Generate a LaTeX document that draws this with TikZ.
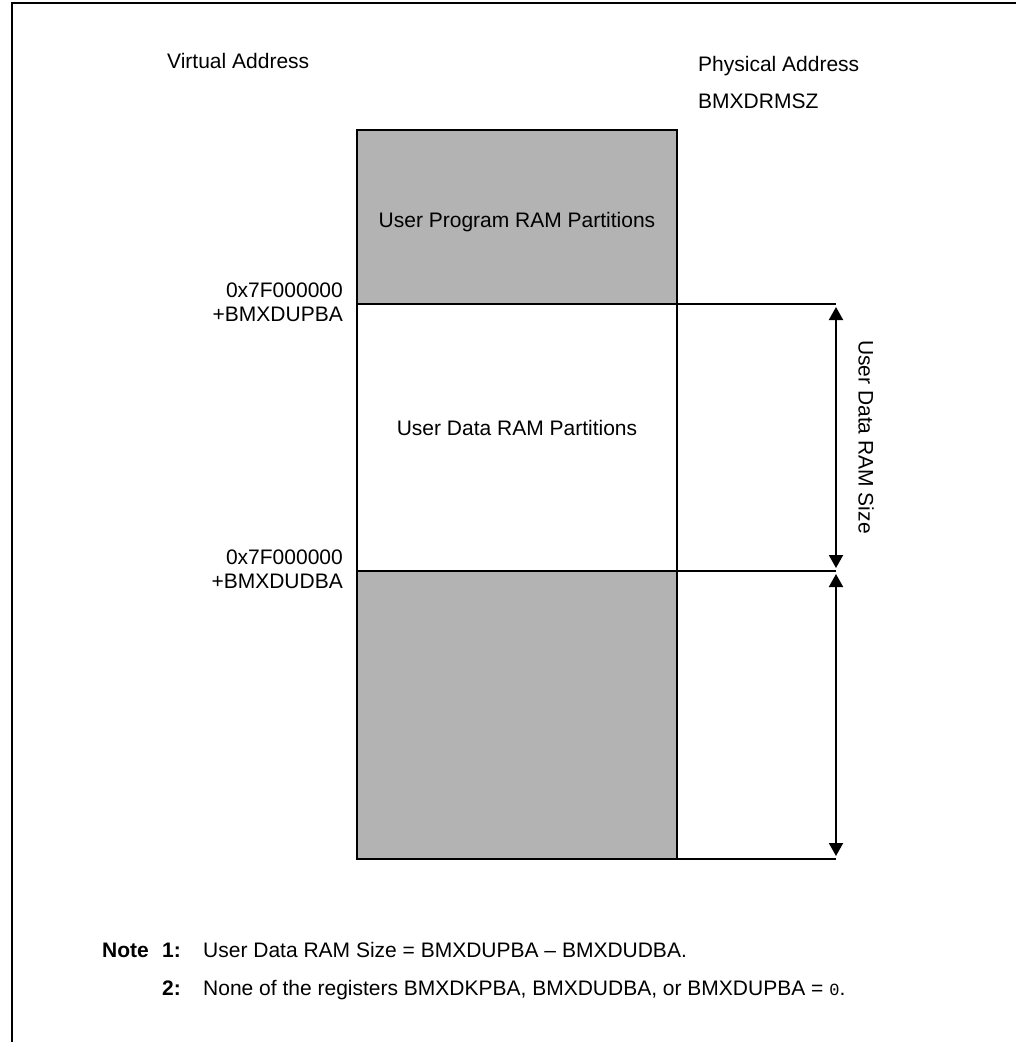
\documentclass[tikz,border=0pt]{standalone}
\usepackage{fontspec}
\setmainfont{Liberation Sans}
\setmonofont{Liberation Mono}
\usetikzlibrary{positioning,arrows.meta}
\definecolor{ramgray}{RGB}{179,179,179}

\begin{document}
\begin{tikzpicture}[
    x=1pt, y=-1pt,
    font=\fontsize{21}{23}\selectfont,
    part/.style={draw, line width=2pt, minimum width=320pt,
                 inner sep=0pt, outer sep=0pt},
    txt/.style={inner sep=0pt, anchor=base west},
    addr/.style={inner sep=0pt, align=right, anchor=north east,
                 font=\fontsize{21}{24}\selectfont},
    bold/.style={txt, font=\fontsize{21}{23}\selectfont\bfseries},
    rline/.style={line width=2pt},
    arr/.style={{Triangle[length=13pt,width=14pt]}-{Triangle[length=13pt,width=14pt]},
                line width=2pt, shorten <=3pt, shorten >=3pt}
]
  \useasboundingbox (0,0) rectangle (1016,1042);
  \draw[line width=2.2pt] (12,1042) -- (12,3) -- (1016,3);

  \node[txt] (virt)  at (167,68)  {Virtual Address};
  \node[txt] (phys)  at (698,71)  {Physical Address};
  \node[txt] (drmsz) at (698,108) {BMXDRMSZ};

  % memory blocks
  \node[part, fill=ramgray, minimum height=174pt, anchor=north west] (prog) at (357,130) {};
  \node[part, minimum height=267pt, below=0pt of prog] (data) {};
  \node[part, fill=ramgray, minimum height=288pt, below=0pt of data] (kern) {};
  \node[inner sep=0pt] (progtxt) at ([yshift=-5pt]prog.center) {User Program RAM Partitions};
  \node[inner sep=0pt] (datatxt) at ([yshift=10pt]data.center) {User Data RAM Partitions};

  \node[addr] (upba) at (343,283) {0x7F000000\\+BMXDUPBA};
  \node[addr] (udba) at (343,550) {0x7F000000\\+BMXDUDBA};

  % size markers
  \coordinate[right=159pt of data.north east] (dtop);
  \coordinate[right=159pt of data.south east] (dbot);
  \coordinate[right=159pt of kern.south east] (kbot);
  \draw[rline] (data.north east) -- (dtop);
  \draw[rline] (data.south east) -- (dbot);
  \draw[rline] (kern.south east) -- (kbot);
  \draw[arr] (dtop) -- (dbot);
  \draw[arr] (dbot) -- (kbot);
  \node[rotate=-90, inner sep=0pt] (size) at (866,437) {User Data RAM Size};

  % notes
  \node[bold] (note) at (102,957) {Note};
  \node[bold] (n1)   at (162,957) {1:};
  \node[txt]  (t1)   at (203,957) {User Data RAM Size = BMXDUPBA – BMXDUDBA.};
  \node[bold] (n2)   at (162,995) {2:};
  \node[txt]  (t2)   at (203,995) {None of the registers BMXDKPBA, BMXDUDBA, or BMXDUPBA = {\ttfamily\fontsize{17}{19}\selectfont 0}.};
\end{tikzpicture}
\end{document}
